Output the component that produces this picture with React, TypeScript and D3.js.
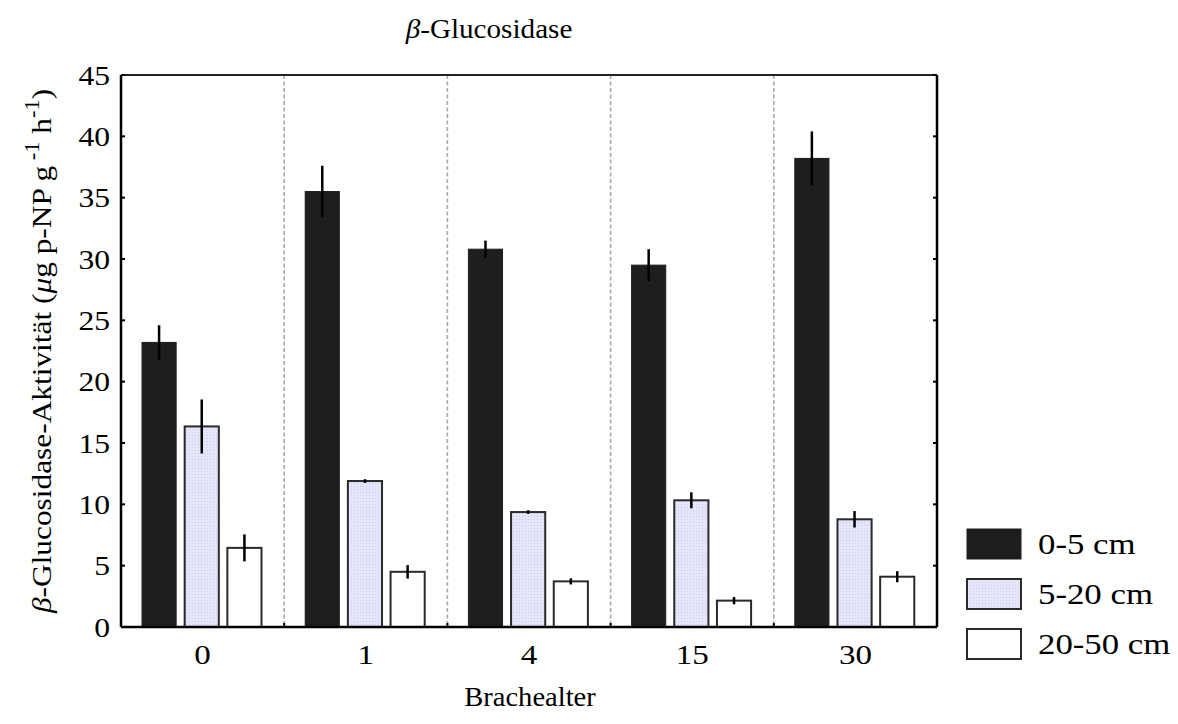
import React from "react";
import * as d3 from "d3";

const categories = ["0", "1", "4", "15", "30"];
const seriesNames = ["0-5 cm", "5-20 cm", "20-50 cm"];
const means0to5 = [23.2, 35.5, 30.8, 29.5, 38.2];
const err0to5 = [1.4, 2.1, 0.7, 1.3, 2.2];
const means5to20 = [16.35, 11.9, 9.37, 10.33, 8.78];
const err5to20 = [2.2, 0.15, 0.15, 0.65, 0.67];
const means20to50 = [6.45, 4.5, 3.72, 2.15, 4.1];
const err20to50 = [1.1, 0.55, 0.25, 0.3, 0.45];
const yTicks = [0, 5, 10, 15, 20, 25, 30, 35, 40, 45];

const fills = ["#1e1e1e", "#dedefa", "#ffffff"];
const strokes = ["#1e1e1e", "#2a2a2a", "#2a2a2a"];

const FONT = "Liberation Serif, Times New Roman, Times, serif";

export default function App() {
  const W = 1178, H = 724;
  const left = 121, right = 937, top = 75, bottom = 627;
  const x = d3.scaleBand<string>().domain(categories).range([left, right]).padding(0);
  const sub = d3.scaleBand<string>().domain(seriesNames).range([21, 140.5]).paddingInner(0.2).paddingOuter(0);
  const y = d3.scaleLinear().domain([0, 45]).range([bottom, top]);
  const means = [means0to5, means5to20, means20to50];
  const errs = [err0to5, err5to20, err20to50];
  const ts = { fontFamily: FONT };

  return (
    <svg width={W} height={H} style={{ position: "absolute", left: 0, top: 0, background: "#fff", fontFamily: FONT }}>
      <defs>
        <pattern id="dots" width="3" height="3" patternUnits="userSpaceOnUse">
          <rect width="3" height="3" fill="#e6e6fb" />
          <rect width="1" height="1" fill="#c8c8f0" />
        </pattern>
      </defs>
      {categories.slice(1).map((c) => (
        <line key={"d" + c} x1={x(c)!} x2={x(c)!} y1={top} y2={bottom} stroke="#a8a8a8" strokeWidth={1.6} strokeDasharray="4,2.5" />
      ))}
      {seriesNames.map((s, si) =>
        categories.map((c, ci) => {
          const bx = x(c)! + sub(s)!;
          const bw = sub.bandwidth();
          const v = means[si][ci];
          const e = errs[si][ci];
          const cx = bx + bw / 2;
          return (
            <g key={s + c}>
              <rect x={bx} y={y(v)} width={bw} height={y(0) - y(v)}
                fill={si === 1 ? "url(#dots)" : fills[si]} stroke={strokes[si]} strokeWidth={si === 0 ? 1 : 2} />
              <line x1={cx} x2={cx} y1={y(v + e)} y2={y(v - e)} stroke="#000" strokeWidth={2.5} />
            </g>
          );
        })
      )}
      <line x1={left} x2={right} y1={top} y2={top} stroke="#222" strokeWidth={2} />
      <line x1={left} x2={right} y1={bottom} y2={bottom} stroke="#000" strokeWidth={2.5} />
      <line x1={left} x2={left} y1={top} y2={bottom} stroke="#000" strokeWidth={2.5} />
      <line x1={right} x2={right} y1={top} y2={bottom} stroke="#000" strokeWidth={2.5} />
      {yTicks.map((t) => (
        <g key={"t" + t}>
          <line x1={left} x2={left + 4} y1={y(t)} y2={y(t)} stroke="#000" strokeWidth={2} />
          <line x1={right - 4} x2={right} y1={y(t)} y2={y(t)} stroke="#000" strokeWidth={2} />
          <text style={ts} transform={`translate(${left - 11},${y(t)}) scale(1.15,1)`} dy="0.35em" textAnchor="end" fontSize={27.5} fill="#000">{t}</text>
        </g>
      ))}
      {categories.slice(1).map((c) => (
        <line key={"xt" + c} x1={x(c)!} x2={x(c)!} y1={bottom - 4} y2={bottom} stroke="#000" strokeWidth={2} />
      ))}
      {categories.map((c) => (
        <text style={ts} key={"xl" + c} transform={`translate(${x(c)! + x.bandwidth() / 2},664) scale(1.18,1)`} textAnchor="middle" fontSize={28} fill="#000">{c}</text>
      ))}
      <text style={ts} transform={`translate(489,38) scale(1.08,1)`} textAnchor="middle" fontSize={27} fill="#000">
        <tspan fontStyle="italic">β</tspan>-Glucosidase
      </text>
      <text style={ts} transform={`translate(530,706) scale(1.02,1)`} textAnchor="middle" fontSize={28} fill="#000">Brachealter</text>
      <text style={ts} transform="translate(51,351) rotate(-90) scale(1.12,1)" textAnchor="middle" fontSize={28} fill="#000">
        <tspan fontStyle="italic">β</tspan>-Glucosidase-Aktivität (<tspan fontStyle="italic">μ</tspan>g p-NP g
        <tspan dy={-12} fontSize={20}> -1</tspan>
        <tspan dy={12}> h</tspan>
        <tspan dy={-12} fontSize={20}>-1</tspan>
        <tspan dy={12}>)</tspan>
      </text>
      {seriesNames.map((s, i) => (
        <g key={"lg" + s} transform={`translate(967, ${529 + i * 50})`}>
          <rect x={0} y={0} width={54} height={30} fill={i === 1 ? "url(#dots)" : fills[i]} stroke={strokes[i]} strokeWidth={i === 0 ? 1 : 2} />
          <text style={ts} transform={`translate(71,15) scale(1.2,1)`} dy="0.35em" fontSize={29} fill="#000">{s}</text>
        </g>
      ))}
    </svg>
  );
}
